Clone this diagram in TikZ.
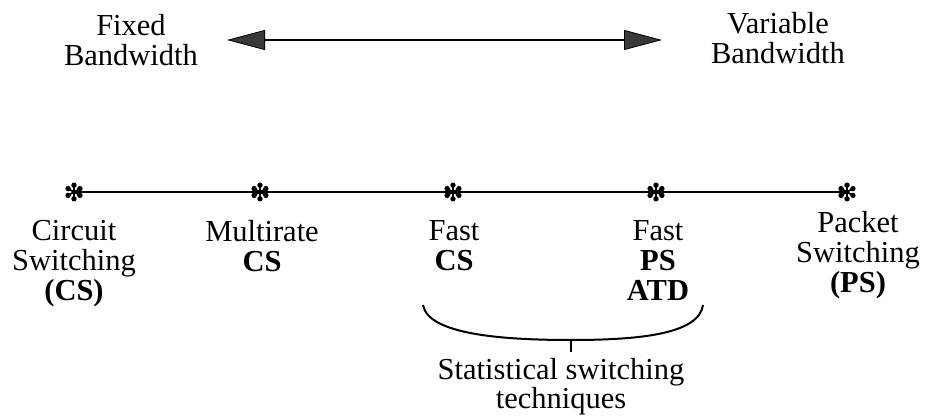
\documentclass[tikz,border=0pt]{standalone}
\usepackage{fontspec}
\setmainfont{Liberation Serif}
\usetikzlibrary{arrows.meta}
\tikzset{bwhead/.tip={Triangle[length=38pt,width=20pt,fill=gray!45!black,line width=0.8pt]}}
\begin{document}
\begin{tikzpicture}[x=1pt,y=-1pt,
  lbl/.style={align=center,anchor=north,inner sep=0pt,font=\fontsize{30.5}{30}\selectfont},
  rule/.style={line width=2pt,black},
  asterisk/.pic={
    \foreach \a in {90,30,-30,-90,-150,-210}{
      \draw[line width=1.6pt] (0pt,0pt) -- (\a:6pt);
      \fill (\a:6.8pt) circle (2.7pt);
    }
    \fill (0pt,0pt) circle (2.6pt);
  }
]
\useasboundingbox (0,0) rectangle (936,419);

% bandwidth scale
\node[lbl] (fixed) at (131,14) {Fixed\\Bandwidth};
\node[lbl] (variable) at (778,12) {Variable\\Bandwidth};
\coordinate (aL) at (227,40);
\coordinate (aR) at (662,40);
\draw[rule,bwhead-bwhead] (aL) -- (aR);

% switching techniques along the axis
\coordinate (s1) at (74,192);
\coordinate (s2) at (260,192);
\coordinate (s3) at (453,192);
\coordinate (s4) at (656,192);
\coordinate (s5) at (847,192);
\draw[rule] (s1) -- (s5);
\foreach \s in {s1,s2,s3,s4,s5}{ \pic at (\s) {asterisk}; }

\node[lbl] (cs)  at (74,220)  {Circuit\\Switching\\\textbf{(CS)}};
\node[lbl] (mcs) at (262,220) {Multirate\\\textbf{CS}};
\node[lbl] (fcs) at (454,220) {Fast\\\textbf{CS}};
\node[lbl] (fps) at (658,220) {Fast\\\textbf{PS}\\\textbf{ATD}};
\node[lbl] (ps)  at (858,211) {Packet\\Switching\\\textbf{(PS)}};

% brace grouping the statistical techniques
\coordinate (b1) at (423,305);
\coordinate (bm) at (571,340);
\coordinate (b2) at (703,305);
\coordinate (bt) at (571,352);
\draw[rule] (b1) .. controls (428,334) and (500,340) .. (bm)
            .. controls (640,340) and (699,334) .. (b2);
\draw[rule] (bm) -- (bt);
\node[lbl,font=\fontsize{30.5}{29}\selectfont] (stat) at (561,358) {Statistical switching\\techniques};
\end{tikzpicture}
\end{document}
